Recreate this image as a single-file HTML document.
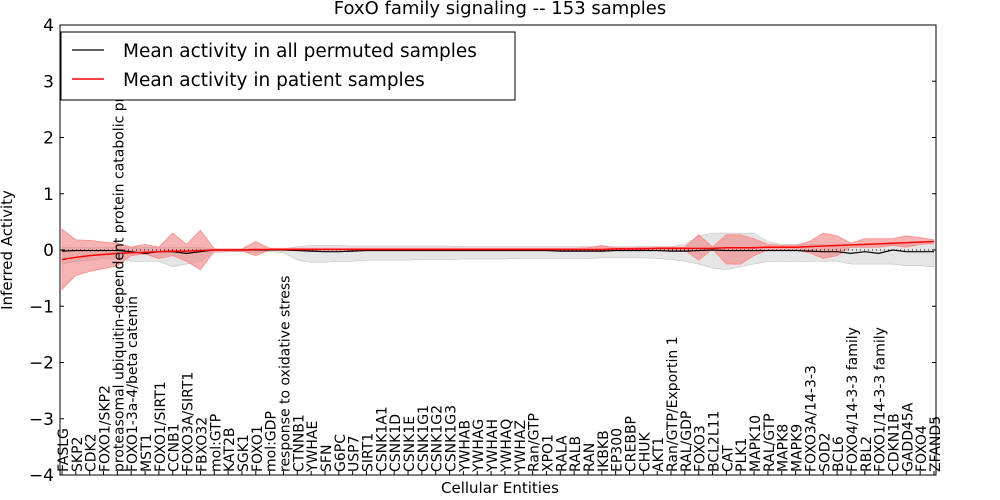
<!DOCTYPE html>
<html><head><meta charset="utf-8"><style>
body{margin:0;background:#fff;}
svg{display:block;font-family:"DejaVu Sans","Liberation Sans",sans-serif;}
</style></head><body>
<svg id="chart" width="1000" height="500"></svg>
<script>
const categories=["FASLG","SKP2","CDK2","FOXO1/SKP2","proteasomal ubiquitin-dependent protein catabolic pr","FOXO1-3a-4/beta catenin","MST1","FOXO1/SIRT1","CCNB1","FOXO3A/SIRT1","FBXO32","mol:GTP","KAT2B","SGK1","FOXO1","mol:GDP","response to oxidative stress","CTNNB1","YWHAE","SFN","G6PC","USP7","SIRT1","CSNK1A1","CSNK1D","CSNK1E","CSNK1G1","CSNK1G2","CSNK1G3","YWHAB","YWHAG","YWHAH","YWHAQ","YWHAZ","Ran/GTP","XPO1","RALA","RALB","RAN","IKBKB","EP300","CREBBP","CHUK","AKT1","Ran/GTP/Exportin 1","RAL/GDP","FOXO3","BCL2L11","CAT","PLK1","MAPK10","RAL/GTP","MAPK8","MAPK9","FOXO3A/14-3-3","SOD2","BCL6","FOXO4/14-3-3 family","RBL2","FOXO1/14-3-3 family","CDKN1B","GADD45A","FOXO4","ZFAND5"];
const redMean=[-0.17,-0.13,-0.1,-0.08,-0.06,-0.05,-0.04,-0.03,-0.02,-0.02,-0.01,0,0,0,0.01,0.01,0.01,0.01,0.01,0.01,0.01,0.01,0.01,0.01,0.01,0.01,0.01,0.01,0.01,0.01,0.01,0.01,0.01,0.01,0.01,0.01,0.01,0.01,0.01,0.01,0.02,0.02,0.02,0.03,0.03,0.03,0.03,0.03,0.04,0.04,0.04,0.05,0.05,0.05,0.06,0.07,0.08,0.09,0.1,0.11,0.12,0.13,0.14,0.15];
const redHi=[0.37,0.18,0.17,0.14,0.12,0.05,0.1,0.05,0.3,0.1,0.35,0.02,0.02,0.02,0.15,0.03,0.03,0.03,0.03,0.03,0.03,0.03,0.03,0.03,0.03,0.03,0.03,0.03,0.03,0.03,0.03,0.03,0.03,0.03,0.03,0.03,0.03,0.03,0.04,0.08,0.04,0.04,0.05,0.05,0.05,0.05,0.27,0.05,0.27,0.27,0.2,0.1,0.08,0.08,0.15,0.3,0.25,0.12,0.2,0.2,0.2,0.25,0.22,0.18];
const redLo=[-0.7,-0.45,-0.38,-0.33,-0.28,-0.1,-0.07,-0.15,-0.1,-0.2,-0.35,-0.02,-0.02,-0.02,-0.1,0,0,0,0,0,0,0,0,0,0,0,0,0,0,0,0,0,0,0,0,0,0,0,0,-0.03,0,0,0,0,0,0,-0.18,0.02,-0.25,-0.25,-0.1,0,0,0,-0.05,-0.15,-0.1,0.05,0.05,0.05,0.08,0.05,0.1,0.12];
const grayMean=[-0.02,-0.01,-0.01,-0.01,-0.01,-0.03,-0.06,-0.03,-0.03,-0.06,-0.03,0,0,0,0,0,0,-0.01,-0.02,-0.03,-0.03,-0.02,-0.01,-0.01,-0.01,-0.01,-0.01,-0.01,-0.01,-0.01,-0.01,-0.01,-0.01,-0.01,-0.01,-0.01,-0.02,-0.02,-0.02,-0.02,-0.01,-0.01,-0.01,-0.01,-0.02,-0.02,-0.01,0,-0.01,-0.01,-0.01,-0.01,-0.01,-0.01,-0.02,-0.03,-0.03,-0.06,-0.03,-0.06,0,-0.03,-0.03,-0.03];
const grayHi=[0.05,0.05,0.05,0.05,0.05,0.05,0.05,0.05,0.05,0.05,0.05,0.02,0.02,0.02,0.02,0.02,0.02,0.06,0.08,0.08,0.08,0.07,0.07,0.07,0.07,0.07,0.07,0.07,0.07,0.06,0.06,0.06,0.06,0.06,0.06,0.06,0.06,0.06,0.06,0.06,0.06,0.06,0.06,0.06,0.06,0.1,0.25,0.3,0.3,0.3,0.3,0.15,0.1,0.1,0.1,0.1,0.1,0.1,0.1,0.1,0.1,0.1,0.1,0.1];
const grayLo=[-0.25,-0.2,-0.18,-0.15,-0.15,-0.2,-0.2,-0.2,-0.3,-0.25,-0.2,-0.05,-0.03,-0.03,-0.05,-0.03,-0.05,-0.18,-0.22,-0.22,-0.2,-0.2,-0.18,-0.18,-0.18,-0.18,-0.17,-0.17,-0.17,-0.16,-0.16,-0.16,-0.16,-0.15,-0.15,-0.15,-0.15,-0.15,-0.15,-0.14,-0.14,-0.14,-0.14,-0.15,-0.17,-0.2,-0.25,-0.32,-0.35,-0.3,-0.25,-0.2,-0.2,-0.2,-0.2,-0.2,-0.2,-0.25,-0.25,-0.25,-0.25,-0.28,-0.28,-0.3];
const yTicks=[4,3,2,1,0,-1,-2,-3,-4];
const yTickLabels=["4","3","2","1","0","\u22121","\u22122","\u22123","\u22124"];

const svg=document.getElementById('chart');
const NS='http://www.w3.org/2000/svg';
const L=60,R=936,T=25,B=475;
const xs=i=>62+i*(934-62)/(categories.length-1);
const ys=v=>T+(4-v)/8*(B-T);
function mk(tag,attrs,parent){const e=document.createElementNS(NS,tag);for(const k in attrs)e.setAttribute(k,attrs[k]);(parent||svg).appendChild(e);return e;}
function band(hi,lo){let d='';hi.forEach((v,i)=>{d+=(i?'L':'M')+xs(i)+','+ys(v);});for(let i=lo.length-1;i>=0;i--)d+='L'+xs(i)+','+ys(lo[i]);return d+'Z';}
function line(arr){return arr.map((v,i)=>(i?'L':'M')+xs(i)+','+ys(v)).join('');}

const t=mk('text',{x:500,y:14,'text-anchor':'middle','font-size':18});t.textContent='FoxO family signaling -- 153 samples';


let g=mk('path',{d:band(grayHi,grayLo),fill:'#d3d3d3','fill-opacity':0.6,stroke:'#bbb','stroke-width':0.5});

let r=mk('path',{d:band(redHi,redLo),fill:'#f08080','fill-opacity':0.6,stroke:'#f88','stroke-width':0.8});

let z=mk('line',{x1:L,x2:R,y1:ys(0),y2:ys(0),stroke:'#000','stroke-dasharray':'1,3','stroke-width':1});

let gm=mk('path',{d:line(grayMean),fill:'none',stroke:'#000','stroke-width':1.2});

let rm=mk('path',{d:line(redMean),fill:'none',stroke:'#f00','stroke-width':1.5});


let frame=mk('rect',{x:L,y:T,width:R-L,height:B-T,fill:'none',stroke:'#000','stroke-width':1});


yTicks.forEach((v,i)=>{
  const y=ys(v);
  mk('line',{x1:L,x2:L+4,y1:y,y2:y,stroke:'#000'});mk('line',{x1:R-4,x2:R,y1:y,y2:y,stroke:'#000'});
  const tx=mk('text',{x:L-6,y:y+6,'text-anchor':'end','font-size':17});tx.textContent=yTickLabels[i];
  
});
categories.forEach((c,i)=>{
  const x=xs(i);
  mk('line',{x1:x,x2:x,y1:B,y2:B-4,stroke:'#000'});
  const tx=mk('text',{x:0,y:0,'font-size':14,transform:`translate(${x+6},${B-3}) rotate(-90)`});tx.textContent=c;
  
});
const xt=mk('text',{x:500,y:493,'text-anchor':'middle','font-size':15});xt.textContent='Cellular Entities';

const yt=mk('text',{x:0,y:0,'text-anchor':'middle','font-size':15,transform:'translate(12,250) rotate(-90)'});yt.textContent='Inferred Activity';


const lg=mk('g',{});

mk('rect',{x:61,y:32,width:454,height:68,fill:'#fff',stroke:'#000'},lg);
mk('line',{x1:72,x2:104,y1:50,y2:50,stroke:'#000','stroke-width':1.2},lg);
mk('line',{x1:72,x2:104,y1:79,y2:79,stroke:'#f00','stroke-width':1.5},lg);
const l1=mk('text',{x:123,y:57,'font-size':18.5},lg);l1.textContent='Mean activity in all permuted samples';

const l2=mk('text',{x:123,y:86,'font-size':18.5},lg);l2.textContent='Mean activity in patient samples';

</script>
</body></html>
